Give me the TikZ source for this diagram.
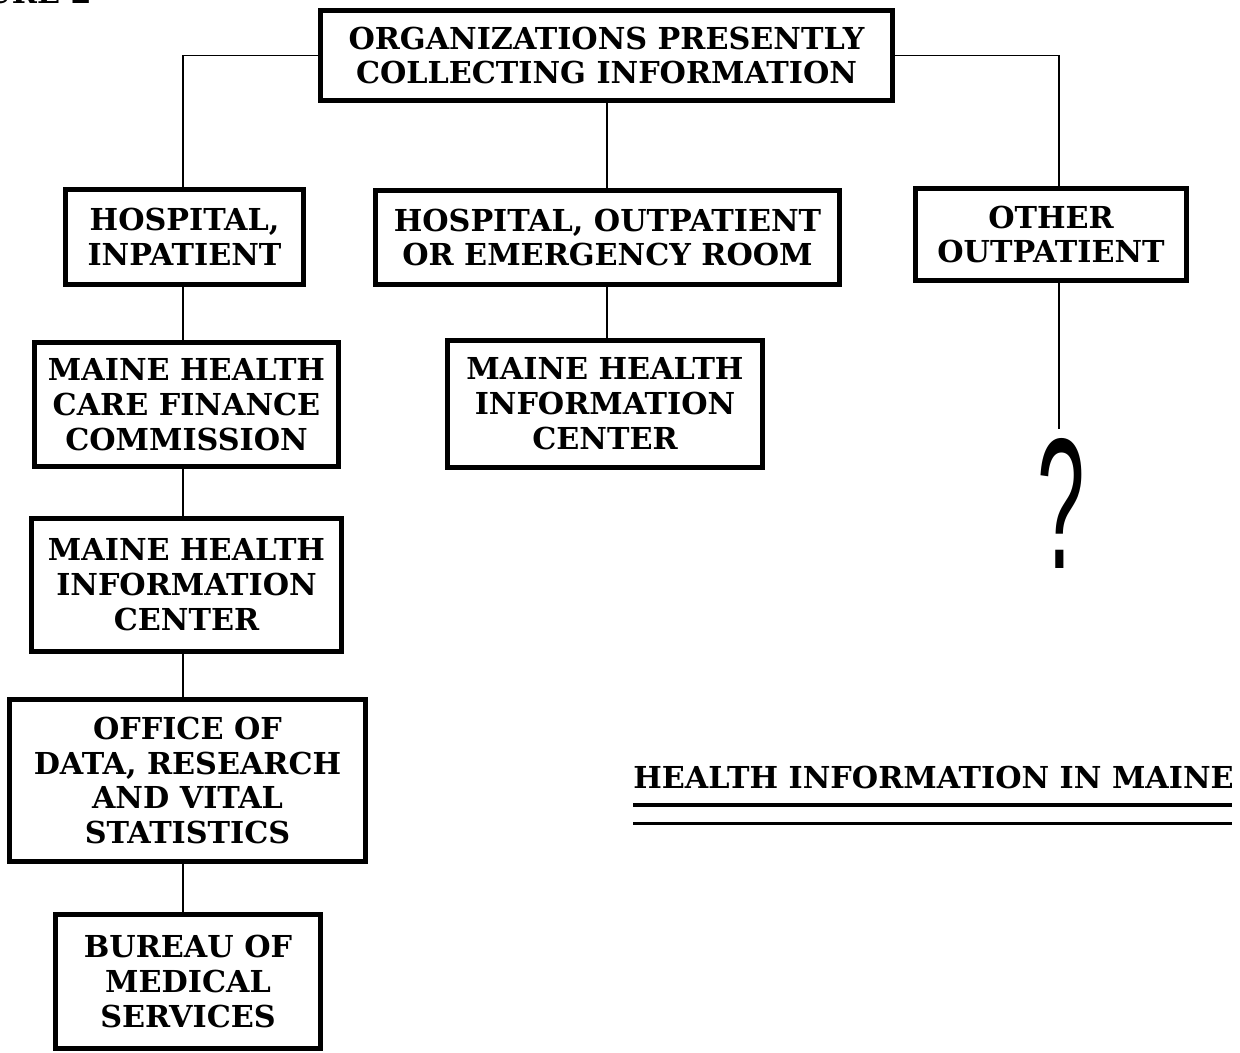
\documentclass[tikz,border=0pt]{standalone}
\usepackage{fontspec}
\setmainfont{DejaVu Serif}
\newfontfamily\qfont{Liberation Sans}
\newcommand{\boxfont}{\fontsize{17.2}{19.85}\selectfont\bfseries}
\begin{document}
\begin{tikzpicture}[x=0.02cm,y=-0.02cm,
  orgbox/.style={draw, line width=0.1cm, inner sep=0pt, align=center, font=\boxfont},
  link/.style={draw, line width=0.03cm}]
\clip (0,0) rectangle (1240,1053);
\fill[white] (0,0) rectangle (1240,1053);

\node[anchor=base east, font=\boxfont, inner sep=0pt] (fig) at (92,4) {URE 2};

\node[orgbox, minimum width=11.44cm, minimum height=1.8cm] (top) at (606.5,55.5)
  {ORGANIZATIONS PRESENTLY\\COLLECTING INFORMATION};
\node[orgbox, minimum width=4.76cm, minimum height=1.9cm] (hin) at (184.5,237)
  {HOSPITAL,\\INPATIENT};
\node[orgbox, minimum width=9.28cm, minimum height=1.88cm] (hout) at (607.5,237.5)
  {HOSPITAL, OUTPATIENT\\OR EMERGENCY ROOM};
\node[orgbox, minimum width=5.42cm, minimum height=1.84cm] (oout) at (1051,234.5)
  {OTHER\\OUTPATIENT};
\node[orgbox, minimum width=6.08cm, minimum height=2.48cm] (mhcfc) at (186.5,404.5)
  {MAINE HEALTH\\CARE FINANCE\\COMMISSION};
\node[orgbox, minimum width=6.3cm, minimum height=2.54cm] (mhicm) at (605,404)
  {MAINE HEALTH\\INFORMATION\\CENTER};
\node[orgbox, minimum width=6.2cm, minimum height=2.66cm] (mhicl) at (186.5,585)
  {MAINE HEALTH\\INFORMATION\\CENTER};
\node[orgbox, minimum width=7.12cm, minimum height=3.24cm] (odrvs) at (187.5,780.5)
  {OFFICE OF\\DATA, RESEARCH\\AND VITAL\\STATISTICS};
\node[orgbox, minimum width=5.3cm, minimum height=2.68cm] (bms) at (188,981.5)
  {BUREAU OF\\MEDICAL\\SERVICES};

\node[inner sep=0pt] (qm) at (1061.5,503)
  {\resizebox{0.95cm}{2.6cm}{\qfont ?}};

\coordinate (lc) at (183,0);
\coordinate (rc) at (1059,0);
\coordinate (mc) at (607,0);

\draw[link] (top.west) -| (lc |- hin.north);
\draw[link] (top.east) -| (rc |- oout.north);
\draw[link] (mc |- top.south) -- (mc |- hout.north);
\draw[link] (mc |- hout.south) -- (mc |- mhicm.north);
\draw[link] (lc |- hin.south) -- (lc |- mhcfc.north);
\draw[link] (lc |- mhcfc.south) -- (lc |- mhicl.north);
\draw[link] (lc |- mhicl.south) -- (lc |- odrvs.north);
\draw[link] (lc |- odrvs.south) -- (lc |- bms.north);
\draw[link] (rc |- oout.south) -- ([yshift=0.18cm]rc |- qm.north);

\node[anchor=base west, font=\boxfont, inner sep=0pt] (title) at (633,788)
  {HEALTH INFORMATION IN MAINE};
\draw[line width=0.08cm] (633,805) -- (1232,805);
\draw[line width=0.06cm] (633,823) -- (1232,823);
\end{tikzpicture}
\end{document}
